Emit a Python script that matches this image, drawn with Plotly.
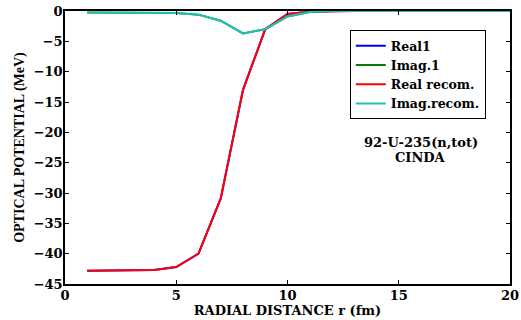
import plotly.graph_objects as go

r = [1, 2, 3, 4, 5, 6, 7, 8, 9, 10, 11, 12, 13, 14, 15, 16, 17, 18, 19, 20]
real1 = [-42.8, -42.8, -42.8, -42.7, -42.2, -40.0, -30.9, -13.0, -3.0, -0.5, -0.1, 0, 0, 0, 0, 0, 0, 0, 0, 0]
imag1 = [-0.25, -0.25, -0.25, -0.3, -0.35, -0.6, -1.6, -3.7, -3.0, -0.9, -0.15, 0, 0, 0, 0, 0, 0, 0, 0, 0]
real_recom = real1
imag_recom = imag1

ff = "DejaVu Serif"

fig = go.Figure()
fig.add_trace(go.Scatter(x=r, y=real1, mode="lines", name="Real1", line=dict(color="#0000ff", width=2)))
fig.add_trace(go.Scatter(x=r, y=imag1, mode="lines", name="Imag.1", line=dict(color="#008000", width=2)))
fig.add_trace(go.Scatter(x=r, y=real_recom, mode="lines", name="Real recom.", line=dict(color="#ff0000", width=2)))
fig.add_trace(go.Scatter(x=r, y=imag_recom, mode="lines", name="Imag.recom.", line=dict(color="#20c0bc", width=2)))

fig.update_layout(
    width=521, height=320,
    margin=dict(l=65, r=11, t=11, b=36),
    paper_bgcolor="white", plot_bgcolor="white",
    font=dict(family=ff, size=13, color="black"),
    showlegend=True,
    legend=dict(
        x=0.64, y=0.93, xanchor="left", yanchor="top",
        bordercolor="black", borderwidth=1, bgcolor="white",
        font=dict(family=ff, size=12.5, color="black", weight="bold"),
        tracegroupgap=0, itemwidth=30,
    ),
    xaxis=dict(
        range=[0, 20], tickvals=[0, 5, 10, 15, 20], showgrid=False, zeroline=False,
        automargin=False, ticklabeloverflow="allow", ticklabelstandoff=-1,
        showline=True, linecolor="black", linewidth=1.5, mirror="ticks",
        ticks="inside", ticklen=4, tickcolor="black",
        tickfont=dict(family=ff, size=13, weight="bold"),
        title=dict(text="RADIAL DISTANCE r (fm)", standoff=0,
                   font=dict(family=ff, size=13, weight="bold")),
    ),
    yaxis=dict(
        range=[-45, 0], tickvals=[0, -5, -10, -15, -20, -25, -30, -35, -40, -45],
        showgrid=False, zeroline=False, automargin=False, ticklabeloverflow="allow",
        ticklabelstandoff=-2,
        showline=True, linecolor="black", linewidth=1.5, mirror="ticks",
        ticks="inside", ticklen=4, tickcolor="black",
        tickfont=dict(family=ff, size=13, weight="bold"),
        title=dict(text="OPTICAL POTENTIAL (MeV)", standoff=6,
                   font=dict(family="Liberation Serif", size=14, weight="bold")),
    ),
    annotations=[
        dict(text="92-U-235(n,tot)", x=0.799, y=0.5165, xref="paper", yref="paper",
             xanchor="center", yanchor="middle", showarrow=False,
             font=dict(family=ff, size=13, color="black", weight="bold")),
        dict(text="CINDA", x=0.799, y=0.465, xref="paper", yref="paper",
             xanchor="center", yanchor="middle", showarrow=False,
             font=dict(family=ff, size=13, color="black", weight="bold")),
    ],
)

fig.write_html("out.html", config={"displayModeBar": False},
               post_script="document.body.style.margin='0';")
